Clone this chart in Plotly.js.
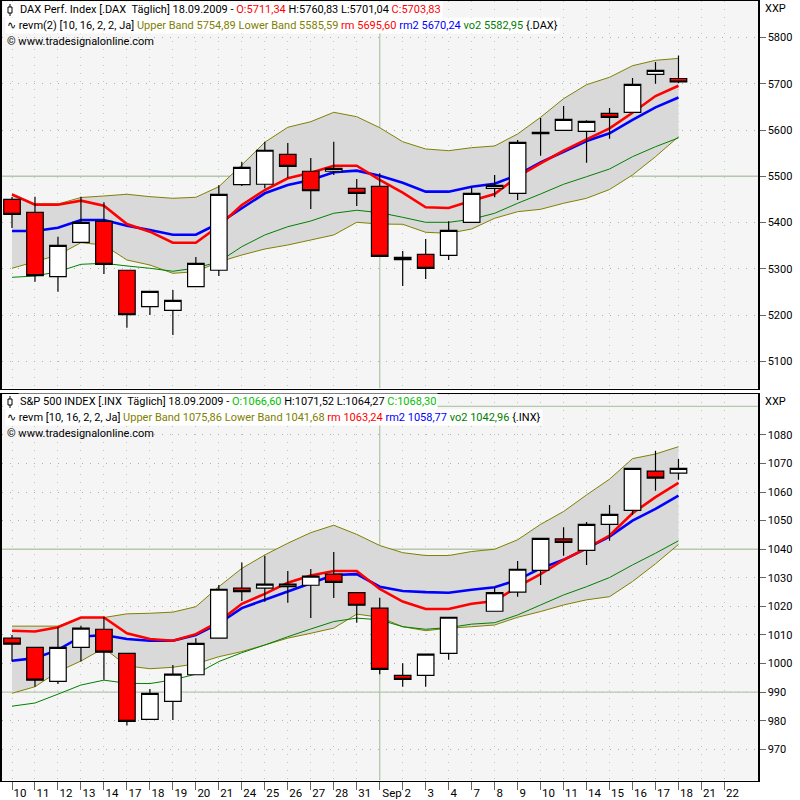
<!DOCTYPE html>
<html><head><meta charset="utf-8">
<script src="https://cdn.plot.ly/plotly-3.0.1.min.js"></script>
<style>html,body{margin:0;padding:0;background:#fff}#c{width:800px;height:800px}</style>
</head><body><div id="c"></div>
<script>
const tickLabels = ["10","11","12","13","14","17","18","19","20","21","24","25","26","27","28","31","Sep","2","3","4","7","8","9","10","11","14","15","16","17","18","21","22"];
const sessions = [0,1,2,3,4,5,6,7,8,9,10,11,12,13,14,15,16,17,18,19,20,21,22,23,24,25,26,27,28,29];

const daxOpen  = [5450.2,5422.1,5282.9,5357.3,5402.7,5296.8,5218.1,5210.3,5261.3,5296.8,5481.8,5482.7,5547.5,5510.8,5510.8,5474.0,5478.3,5324.8,5331.3,5329.2,5400.5,5474.0,5463.2,5592.0,5599.4,5597.2,5636.1,5638.3,5720.4,5711.34];
const daxHigh  = [5455.2,5455.9,5369.4,5455.9,5443.7,5296.8,5251.3,5254.2,5325.5,5480.5,5530.9,5574.7,5571.9,5539.5,5574.7,5494.1,5506.4,5338.5,5364.4,5402.7,5477.5,5502.8,5578.4,5626.0,5651.9,5621.0,5647.6,5712.5,5747.0,5760.83];
const daxLow   = [5388.2,5272.1,5250.5,5357.3,5288.8,5172.7,5200.1,5156.9,5261.3,5284.4,5479.0,5474.0,5496.3,5429.3,5502.8,5435.7,5327.0,5262.8,5277.9,5319.0,5400.5,5454.6,5448.7,5544.5,5599.4,5529.4,5581.2,5638.3,5700.1,5701.04];
const daxClose = [5417.8,5285.1,5350.8,5400.5,5309.7,5200.8,5251.3,5231.9,5311.9,5461.0,5519.4,5556.2,5521.6,5468.8,5517.2,5463.2,5327.0,5319.7,5301.1,5383.2,5463.2,5480.5,5573.4,5595.1,5623.2,5618.8,5627.5,5698.8,5729.1,5703.83];
const daxUpper = [5461.7,5440.1,5440.1,5454.1,5457.4,5461.1,5455.9,5452.4,5454.6,5477.5,5524.4,5573.5,5605.9,5618.0,5638.3,5628.8,5605.0,5574.7,5559.0,5555.3,5561.8,5565.5,5591.4,5627.5,5667.7,5698.0,5714.0,5739.0,5750.7,5754.89];
const daxLower = [5301.1,5315.3,5329.8,5356.4,5351.4,5319.0,5308.2,5290.2,5293.7,5314.7,5329.8,5342.8,5351.4,5362.3,5373.1,5400.5,5396.8,5396.2,5378.9,5376.7,5386.0,5409.2,5423.4,5428.6,5441.6,5452.4,5471.4,5502.8,5542.3,5585.59];
const daxRm    = [5460.6,5438.6,5438.6,5447.2,5436.4,5396.8,5380.2,5356.4,5356.4,5392.5,5437.9,5470.3,5495.6,5507.7,5522.9,5522.9,5492.0,5464.5,5432.9,5431.4,5447.2,5461.7,5499.1,5528.1,5555.3,5579.9,5603.7,5637.4,5673.5,5695.60];
const daxRm2   = [5381.7,5381.7,5388.8,5405.5,5405.5,5393.1,5383.9,5373.7,5373.7,5398.4,5430.8,5463.2,5481.1,5492.0,5508.6,5512.1,5501.3,5486.1,5466.7,5466.7,5477.5,5484.0,5502.8,5530.2,5553.1,5576.3,5592.9,5621.7,5649.1,5670.24];
const daxVo2   = [5281.6,5284.4,5293.7,5309.7,5311.9,5306.1,5301.1,5294.6,5301.7,5315.3,5347.8,5373.1,5391.0,5403.3,5420.0,5426.5,5421.3,5411.3,5400.5,5400.5,5407.0,5420.0,5441.6,5461.7,5482.7,5499.1,5515.7,5542.3,5563.9,5582.95];

const spxOpen  = [1008.9,1005.7,993.8,1005.7,1012.0,1003.6,980.5,986.8,996.1,1008.9,1026.4,1026.4,1026.9,1027.4,1031.3,1024.8,1019.4,995.9,995.9,1003.6,null,1018.3,1025.0,1032.6,1043.6,1039.6,1048.7,1053.6,1067.3,1066.60];
const spxHigh  = [1010.0,1005.7,1012.9,1013.2,1016.4,1003.6,991.1,999.5,1008.9,1027.5,1035.4,1037.7,1032.4,1033.1,1039.0,1024.8,1023.0,1000.1,1003.3,1016.2,null,1026.8,1035.9,1043.8,1047.7,1049.5,1055.5,1068.3,1074.4,1071.52];
const spxLow   = [1000.7,991.9,992.9,1000.7,994.3,978.3,980.5,980.3,996.1,1008.9,1021.9,1021.6,1021.3,1015.9,1022.9,1014.3,996.3,991.9,991.9,1001.3,null,1018.3,1023.4,1027.5,1037.7,1034.5,1043.0,1052.0,1060.5,1064.27];
const spxClose = [1006.8,994.2,1005.7,1012.4,1004.0,979.8,989.6,996.3,1007.1,1026.0,1025.2,1027.8,1027.8,1030.6,1028.4,1020.4,998.0,994.5,1003.3,1016.2,null,1024.8,1033.0,1043.8,1042.4,1048.7,1052.2,1068.3,1064.9,1068.30];
const spxUpper = [1013.1,1013.1,1013.1,1016.1,1016.1,1017.4,1017.6,1018.0,1019.9,1026.9,1033.3,1038.0,1042.1,1045.8,1048.4,1045.2,1041.3,1038.8,1037.8,1037.8,1039.2,1040.0,1043.3,1048.7,1053.2,1059.0,1064.5,1071.7,1073.3,1075.86];
const spxLower = [989.6,991.9,997.2,1000.9,1005.4,999.2,998.2,998.7,999.9,1002.4,1004.2,1006.5,1008.9,1010.6,1012.4,1017.3,1016.2,1012.9,1011.5,1012.4,1012.9,1013.5,1016.2,1018.2,1020.5,1022.3,1023.4,1028.7,1034.9,1041.68];
const spxRm    = [1011.5,1011.2,1012.7,1016.1,1016.1,1010.6,1008.6,1008.0,1010.3,1014.7,1020.9,1024.4,1028.3,1030.8,1032.4,1032.4,1026.1,1021.7,1019.1,1019.1,1020.9,1021.9,1026.9,1031.3,1036.3,1040.3,1044.8,1052.6,1058.2,1063.24];
const spxRm2   = [1001.0,1001.9,1004.8,1009.4,1010.0,1008.6,1008.0,1008.0,1010.0,1014.1,1019.4,1022.3,1025.2,1028.1,1031.0,1031.3,1026.9,1025.4,1025.0,1024.8,1025.8,1026.7,1029.3,1033.3,1036.3,1040.3,1044.4,1050.0,1054.1,1058.77];
const spxVo2   = [985.1,986.2,989.3,992.5,994.2,993.1,993.0,994.3,996.3,1000.7,1003.8,1006.5,1009.4,1012.1,1014.7,1015.9,1015.3,1012.9,1012.0,1012.6,1013.8,1014.3,1017.0,1020.5,1024.0,1026.9,1030.1,1034.5,1038.6,1042.96];

const daxTicks = [5100,5200,5300,5400,5500,5600,5700,5800];
const spxTicks = [970,980,990,1000,1010,1020,1030,1040,1050,1060,1070,1080];
const daxRange = [5041.2,5878.9];
const spxRange = [959.1,1094.3];
const xRange = [-0.457,32.46];

const OLIVE='#808000', GREEN='#008000', BLUE='#0000ff', RED='#ff0000', BAND='#d9d9d9';
const FONT='Roboto, "Liberation Sans", Arial, sans-serif';
const W=800,H=800;
const px=v=>v/W, py=v=>1-v/H;

function pane(xa,ya,xo,yo,o,h,l,c,up,lo,rm,rm2,vo2){
  const s=(y,col,w,extra)=>Object.assign({type:'scatter',mode:'lines',x:sessions,y:y,xaxis:xa,yaxis:ya,
    line:{color:col,width:w,simplify:false},hoverinfo:'skip'},extra||{});
  return [
    s(up,OLIVE,1),
    s(lo,OLIVE,1,{fill:'tonexty',fillcolor:BAND}),
    s(vo2,GREEN,1),
    s(rm2,BLUE,2.6),
    s(rm,RED,2.6),
    {type:'candlestick',x:sessions,open:o,high:h,low:l,close:c,xaxis:xo,yaxis:yo,whiskerwidth:0,
     increasing:{line:{color:'#000',width:1.2},fillcolor:'#ffffff'},
     decreasing:{line:{color:'#000',width:1.2},fillcolor:RED},hoverinfo:'skip'}
  ];
}
const data=[...pane('x','y','x3','y3',daxOpen,daxHigh,daxLow,daxClose,daxUpper,daxLower,daxRm,daxRm2,daxVo2),
            ...pane('x2','y2','x4','y4',spxOpen,spxHigh,spxLow,spxClose,spxUpper,spxLower,spxRm,spxRm2,spxVo2)];

const tickIdx=tickLabels.map((_,i)=>i);
const pad=t=>t==='Sep'?'\u00A0\u00A0\u00A0'+t:(t.length===1?t+'\u00A0\u00A0':t);
const xDom=[px(1.5),px(758)];
const d1=[py(388.5),py(1)], d2=[py(780.5),py(394)];
const baseX={range:xRange,domain:xDom,showline:true,mirror:true,linecolor:'#000',linewidth:1.5,zeroline:false,
  tickmode:'array',tickvals:tickIdx,showgrid:true,gridcolor:'#b4d0b4',griddash:'1px,7px',gridwidth:1,
  rangeslider:{visible:false}};
const baseY={side:'right',showline:true,mirror:true,linecolor:'#000',linewidth:1.5,zeroline:false,
  tickmode:'array',showgrid:true,gridcolor:'#b0b0b0',griddash:'1px,7px',gridwidth:1,
  ticks:'outside',ticklen:6,tickcolor:'#666',tickfont:{family:FONT,size:11,color:'#000'}};
const hidden={visible:false,rangeslider:{visible:false},showgrid:false,zeroline:false};

const shapeLine=(xr,yr,x0,y0,x1,y1)=>({type:'line',xref:xr,yref:yr,x0,y0,x1,y1,layer:'between',line:{color:'#b4c8ac',width:1.3}});
const icon=(yc)=>[
  {type:'rect',xref:'paper',yref:'paper',x0:px(3),x1:px(18),y0:py(yc-8),y1:py(yc+7),fillcolor:'#fff',line:{width:0}},
  {type:'line',xref:'paper',yref:'paper',x0:px(10),x1:px(10),y0:py(yc-6),y1:py(yc+6),line:{color:'#000',width:1}},
  {type:'rect',xref:'paper',yref:'paper',x0:px(8),x1:px(12),y0:py(yc-3),y1:py(yc+3),fillcolor:'#fff',line:{color:'#000',width:1}}
];
const note=(x,y,text,bg)=>({xref:'paper',yref:'paper',x:px(x),y:py(y),xanchor:'left',yanchor:'middle',showarrow:false,
  text:text,align:'left',font:{family:FONT,size:11,color:'#000'},bgcolor:bg||'rgba(0,0,0,0)',borderpad:1});
const col=(c,t)=>`<span style="color:${c}">${t}</span>`;
const OG='#00c000';

const layout={width:W,height:H,margin:{l:0,r:0,t:0,b:0},paper_bgcolor:'#ffffff',plot_bgcolor:'#f5f5f5',showlegend:false,
  boxgap:0.28,boxgroupgap:0,
  xaxis:Object.assign({},baseX,{anchor:'y',showticklabels:false,ticks:''}),
  yaxis:Object.assign({},baseY,{anchor:'x',domain:d1,range:daxRange,tickvals:daxTicks,ticktext:daxTicks.map(String)}),
  xaxis2:Object.assign({},baseX,{anchor:'y2',ticks:'outside',ticklen:8,tickcolor:'#666',
     ticktext:tickLabels.map(pad),ticklabelshift:8,ticklabelstandoff:-7,tickfont:{family:FONT,size:11.5,color:'#000'}}),
  yaxis2:Object.assign({},baseY,{anchor:'x2',domain:d2,range:spxRange,tickvals:spxTicks,ticktext:spxTicks.map(String)}),
  xaxis3:Object.assign({},hidden,{overlaying:'x',anchor:'y3',range:xRange,domain:xDom}),
  yaxis3:Object.assign({},hidden,{overlaying:'y',anchor:'x3',range:daxRange,domain:d1}),
  xaxis4:Object.assign({},hidden,{overlaying:'x2',anchor:'y4',range:xRange,domain:xDom}),
  yaxis4:Object.assign({},hidden,{overlaying:'y2',anchor:'x4',range:spxRange,domain:d2}),
  shapes:[
    shapeLine('x','y',xRange[0],5500,xRange[1],5500),
    shapeLine('x','y',16,daxRange[0],16,daxRange[1]),
    shapeLine('x2','y2',xRange[0],1090,xRange[1],1090),
    shapeLine('x2','y2',xRange[0],1040,xRange[1],1040),
    shapeLine('x2','y2',xRange[0],990,xRange[1],990),
    shapeLine('x2','y2',16,spxRange[0],16,spxRange[1]),
    ...icon(10),...icon(402)
  ],
  annotations:[
    note(18,10,'DAX Perf. Index [.DAX\u00A0\u00A0Täglich] 18.09.2009 - '+col(RED,'O:5711,34')+' H:5760,83 L:5701,04 '+col(RED,'C:5703,83'),'#fff'),
    note(5,25,'∿ revm(2) [10, 16, 2, 2, Ja] '+col(OLIVE,'Upper Band 5754,89 Lower Band 5585,59')+' '+col(RED,'rm 5695,60')+' '+col(BLUE,'rm2 5670,24')+' '+col(GREEN,'vo2 5582,95')+' {.DAX}','#fff'),
    note(5,41,'© www.tradesignalonline.com'),
    note(763,9,'XXP'),
    note(18,402,'S&amp;P 500 INDEX [.INX\u00A0\u00A0Täglich] 18.09.2009 - '+col(OG,'O:1066,60')+' H:1071,52 L:1064,27 '+col(OG,'C:1068,30'),'#fff'),
    note(5,417,'∿ revm [10, 16, 2, 2, Ja] '+col(OLIVE,'Upper Band 1075,86 Lower Band 1041,68')+' '+col(RED,'rm 1063,24')+' '+col(BLUE,'rm2 1058,77')+' '+col(GREEN,'vo2 1042,96')+' {.INX}','#fff'),
    note(5,433,'© www.tradesignalonline.com'),
    note(763,401,'XXP')
  ]
};
Plotly.newPlot('c',data,layout,{displayModeBar:false,staticPlot:true});
</script></body></html>
